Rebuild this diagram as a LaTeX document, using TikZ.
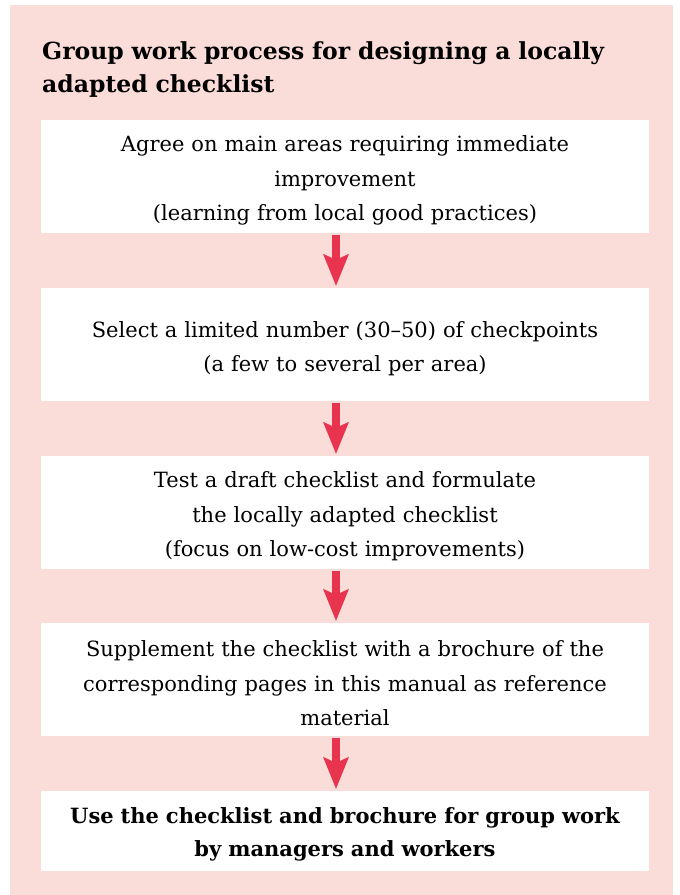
\documentclass[tikz,border=0pt]{standalone}
\usepackage{fontspec}
\setmainfont{DejaVu Serif}
\usetikzlibrary{arrows.meta}
\definecolor{bgpink}{RGB}{250,221,216}
\definecolor{arrred}{RGB}{233,52,80}
\begin{document}
\begin{tikzpicture}[x=1pt,y=-1pt,
  stepbox/.style={fill=white, rectangle, minimum width=608pt, text width=600pt, align=center, inner sep=0pt, font=\fontsize{21}{34.5}\selectfont, text height=24pt},
  flow/.style={draw=arrred, fill=arrred, line width=8pt, -{Stealth[length=32pt 0, width=26pt 0, inset=6pt 0, line width=0pt]}, shorten <=2pt, shorten >=2pt}]
\useasboundingbox (0,0) rectangle (680,895);
\fill[bgpink] (10,5) rectangle (673,895);
\node[anchor=base west, text width=620pt, align=left, inner sep=0pt, font=\bfseries\fontsize{23.5}{33}\selectfont] (title) at (42,59) {Group work process for designing a locally\\adapted checklist};
\node[stepbox, minimum height=113pt] (b1) at (345,176.5) {Agree on main areas requiring immediate\\improvement\\(learning from local good practices)};
\node[stepbox, minimum height=113pt] (b2) at (345,344.5) {Select a limited number (30--50) of checkpoints\\(a few to several per area)};
\node[stepbox, minimum height=113pt] (b3) at (345,512.5) {Test a draft checklist and formulate\\the locally adapted checklist\\(focus on low-cost improvements)};
\node[stepbox, minimum height=113pt] (b4) at (345,679.5) {Supplement the checklist with a brochure of the\\corresponding pages in this manual as reference\\material};
\node[stepbox, minimum height=80pt, font=\bfseries\fontsize{21}{33}\selectfont, text height=22pt] (b5) at (345,831) {Use the checklist and brochure for group work\\by managers and workers};
\draw[flow] (b1.south -| 336,0) -- (b2.north -| 336,0);
\draw[flow] (b2.south -| 336,0) -- (b3.north -| 336,0);
\draw[flow] (b3.south -| 336,0) -- (b4.north -| 336,0);
\draw[flow] (b4.south -| 336,0) -- (b5.north -| 336,0);
\end{tikzpicture}
\end{document}
